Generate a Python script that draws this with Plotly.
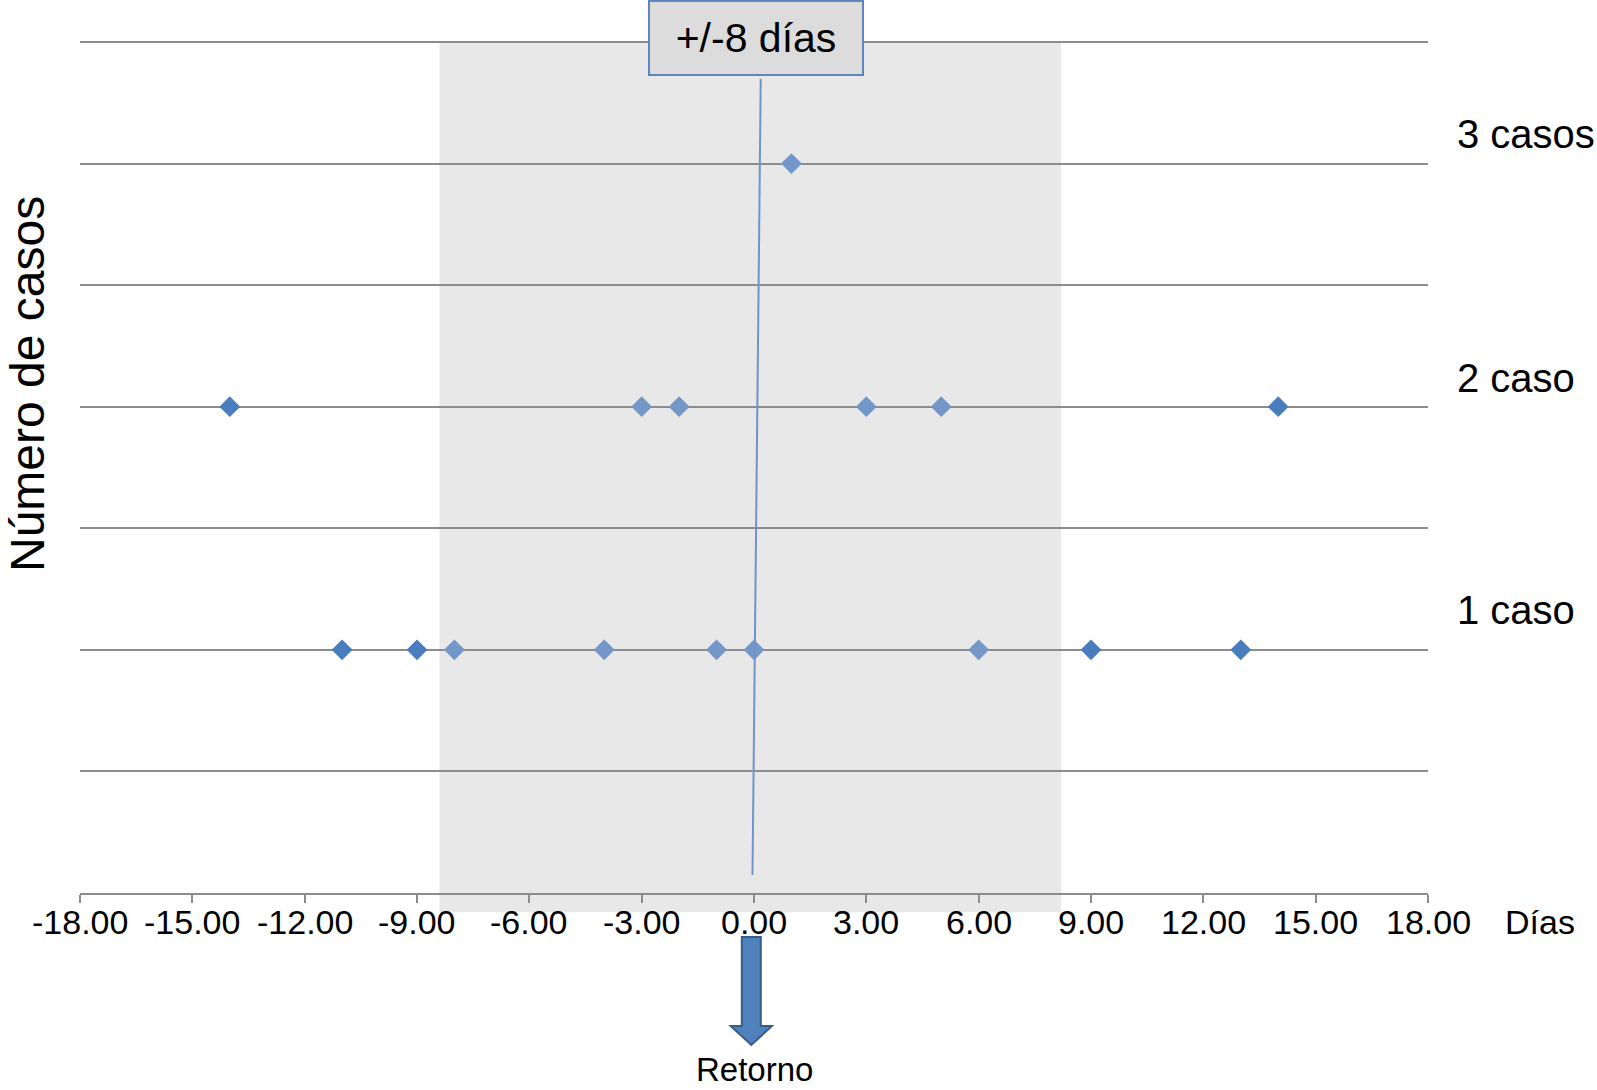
import plotly.graph_objects as go

# ---- data ----
row_1_days = [-11, -9, -8, -4, -1, 0, 6, 9, 13]
row_2_days = [-14, -3, -2, 3, 5, 14]
row_3_days = [1]
row_values = [1, 2, 3]
row_labels = ["1 caso", "2 caso", "3 casos"]
x_ticks = [-18, -15, -12, -9, -6, -3, 0, 3, 6, 9, 12, 15, 18]
window_days = [-8.4, 8.2]
window_label = "+/-8 días"
x_title = "Días"
y_title = "Número de casos"
return_label = "Retorno"

FONT = "Liberation Sans, Arial, Helvetica, sans-serif"
DARK = "#4a7dbd"
LIGHT = "#7297c8"
GRID = "#8c8c8c"

xs, ys, cols = [], [], []
for val, days in zip(row_values, [row_1_days, row_2_days, row_3_days]):
    for d in days:
        xs.append(d)
        ys.append(val)
        cols.append(LIGHT if window_days[0] <= d <= window_days[1] else DARK)

fig = go.Figure()
fig.add_trace(go.Scatter(
    x=xs, y=ys, mode="markers",
    marker=dict(symbol="diamond", size=16, color=cols, line=dict(width=0)),
    showlegend=False, hoverinfo="x+y", cliponaxis=False,
))

# plot-area geometry (pixels) used to place decorations
W, H = 1597, 1090
L, R, T, B = 80, 169, 42, 197
plot_h = H - T - B
plot_w = W - L - R

def py(pix):
    """pixel y (from top) -> paper y"""
    return (H - B - pix) / plot_h

def px(pix):
    """pixel x (from left) -> paper x"""
    return (pix - L) / plot_w

shapes = []
# shaded window
shapes.append(dict(type="rect", xref="x", yref="paper",
                   x0=window_days[0], x1=window_days[1], y0=py(912), y1=1,
                   fillcolor="#e8e8e8", line=dict(width=0), layer="below"))
# top gridline
shapes.append(dict(type="line", xref="paper", yref="paper", x0=0, x1=1, y0=1, y1=1,
                   line=dict(color=GRID, width=2), layer="below"))
# slanted reference line
shapes.append(dict(type="line", xref="x", yref="paper",
                   x0=0.18, y0=py(79), x1=-0.04, y1=py(875),
                   line=dict(color="#7094c7", width=2), layer="above"))
# return arrow (pixel-sized, anchored at x=0 on axis line)
cx = -2.7
path = (f"M {cx-9.5},-44 L {cx+9.5},-44 L {cx+9.5},-133 L {cx+20.6},-133 "
        f"L {cx},-152 L {cx-20.6},-133 L {cx-9.5},-133 Z")
shapes.append(dict(type="path", xref="x", yref="paper",
                   xsizemode="pixel", ysizemode="pixel", xanchor=0, yanchor=0,
                   path=path, fillcolor="#4f81bd",
                   line=dict(color="#385d8a", width=2), layer="above"))

annotations = []
# window label box
annotations.append(dict(text=window_label, xref="x", yref="paper",
                        x=0.05, y=py(0), xanchor="center", yanchor="top",
                        showarrow=False, font=dict(family=FONT, size=41, color="black"),
                        bgcolor="#dcdcdc", bordercolor="#5f86bf", borderwidth=2,
                        borderpad=1, width=210, height=70))
# row labels on the right
label_shift = [40, 29, 30]
for lab, val, sh in zip(row_labels, row_values, label_shift):
    annotations.append(dict(text=lab, xref="paper", yref="y",
                            x=px(1455), y=val, yshift=sh,
                            xanchor="left", yanchor="middle", showarrow=False,
                            font=dict(family=FONT, size=40, color="black")))
# x tick labels (hyphen-minus as in the original)
for v in x_ticks:
    annotations.append(dict(text=f"{v:.2f}", xref="x", yref="paper",
                            x=v, y=py(922), xanchor="center", yanchor="middle",
                            showarrow=False, font=dict(family=FONT, size=34, color="black")))
# y title
annotations.append(dict(text=y_title, xref="paper", yref="paper",
                        x=px(27), y=py(384), textangle=-90,
                        xanchor="center", yanchor="middle", showarrow=False,
                        font=dict(family=FONT, size=48, color="black")))
# x title
annotations.append(dict(text=x_title, xref="paper", yref="paper",
                        x=px(1503), y=py(922),
                        xanchor="left", yanchor="middle", showarrow=False,
                        font=dict(family=FONT, size=34, color="black")))
# return label
annotations.append(dict(text=return_label, xref="x", yref="paper",
                        x=0, y=py(1069), xanchor="center", yanchor="middle",
                        showarrow=False, font=dict(family=FONT, size=33, color="black")))

fig.update_layout(
    width=W, height=H,
    margin=dict(l=L, r=R, t=T, b=B, pad=0),
    paper_bgcolor="white", plot_bgcolor="rgba(0,0,0,0)",
    shapes=shapes, annotations=annotations,
    font=dict(family=FONT, color="black"),
    xaxis=dict(range=[x_ticks[0], x_ticks[-1]], tickvals=x_ticks,
               showticklabels=False,
               ticks="outside", ticklen=8, tickwidth=2, tickcolor=GRID,
               showline=True, linecolor=GRID, linewidth=2,
               showgrid=False, zeroline=False),
    yaxis=dict(range=[0, 3.5], dtick=0.5, tick0=0, showgrid=True, gridcolor=GRID,
               gridwidth=2, showticklabels=False, zeroline=False, showline=False,
               ticks=""),
)

fig.write_html("out.html", config={"displayModeBar": False},
               post_script="document.body.style.margin='0';")
